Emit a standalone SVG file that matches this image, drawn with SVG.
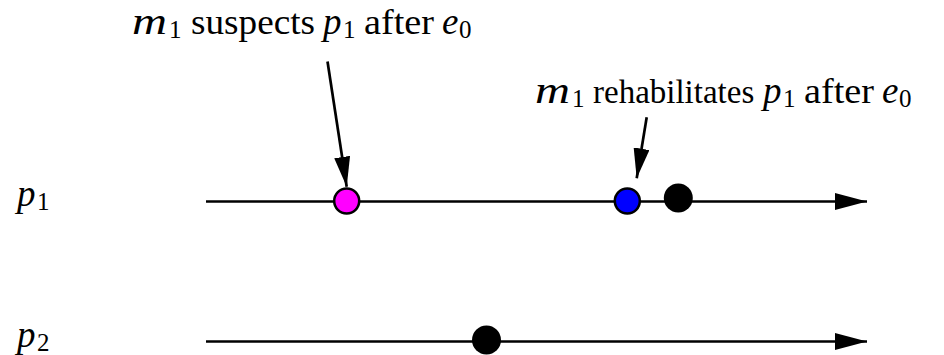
<svg xmlns="http://www.w3.org/2000/svg" width="944" height="355" viewBox="0 0 944 355">
<style>
text{font-family:"Liberation Serif","Times New Roman",serif;font-size:36px;fill:#000}
.i{font-style:italic;font-size:37px}
.s{font-size:25px}
.line{stroke:#000;stroke-width:2.7;fill:none}
</style>
<defs>
<marker id="ah" viewBox="0 0 32 17" refX="32" refY="8.5" markerWidth="32" markerHeight="17" markerUnits="userSpaceOnUse" orient="auto">
<path d="M0,0 L32,8.5 L0,17 Z" fill="#000"/>
</marker>
<marker id="ph" viewBox="0 0 30 16" refX="30" refY="8" markerWidth="30" markerHeight="16" markerUnits="userSpaceOnUse" orient="auto">
<path d="M0,0 L30,8 L0,16 Z" fill="#000"/>
</marker>
</defs>
<g id="labels">
<text id="label-p1" x="17" y="206"><tspan class="i">p</tspan><tspan class="s" x="37" dy="4">1</tspan></text>
<text id="label-p2" x="17" y="347"><tspan class="i">p</tspan><tspan class="s" x="37" dy="4">2</tspan></text>
<text id="label-suspects" x="132" y="34"><tspan class="i" textLength="35" lengthAdjust="spacingAndGlyphs">m</tspan><tspan class="s" x="169" dy="4">1</tspan><tspan x="191" dy="-4" textLength="124" lengthAdjust="spacingAndGlyphs">suspects</tspan><tspan class="i" x="323">p</tspan><tspan class="s" x="343" dy="4">1</tspan><tspan x="364" dy="-4" textLength="70" lengthAdjust="spacingAndGlyphs">after</tspan><tspan class="i" x="442">e</tspan><tspan class="s" x="459" dy="4">0</tspan></text>
<text id="label-rehab" x="535" y="103"><tspan class="i" textLength="35" lengthAdjust="spacingAndGlyphs">m</tspan><tspan class="s" x="572" dy="4">1</tspan><tspan x="593" dy="-4" font-size="33" style="font-size:33px">rehabilitates</tspan><tspan class="i" x="763">p</tspan><tspan class="s" x="783" dy="4">1</tspan><tspan x="804" dy="-4" textLength="70" lengthAdjust="spacingAndGlyphs">after</tspan><tspan class="i" x="882">e</tspan><tspan class="s" x="899" dy="4">0</tspan></text>
</g>
<g id="connectors">
<line id="timeline-p1" class="line" x1="206" y1="201.5" x2="867" y2="201.5" marker-end="url(#ah)"/>
<line id="timeline-p2" class="line" x1="206" y1="341.5" x2="867" y2="341.5" marker-end="url(#ah)"/>
<line id="ptr-suspects" class="line" x1="327.5" y1="61.5" x2="346.7" y2="186.7" marker-end="url(#ph)"/>
<line id="ptr-rehab" class="line" x1="646.7" y1="117.3" x2="636.7" y2="178.3" marker-end="url(#ph)"/>
</g>
<g id="ev-suspect"><circle cx="346.7" cy="201" r="12.5" fill="#ff00ff" stroke="#000" stroke-width="2.5"/></g>
<g id="ev-rehab"><circle cx="627.3" cy="201" r="12.5" fill="#0000ff" stroke="#000" stroke-width="2.5"/></g>
<g id="ev-p1"><circle cx="678.3" cy="198" r="14.5" fill="#000"/></g>
<g id="ev-p2"><circle cx="486.5" cy="340" r="14.5" fill="#000"/></g>
</svg>
